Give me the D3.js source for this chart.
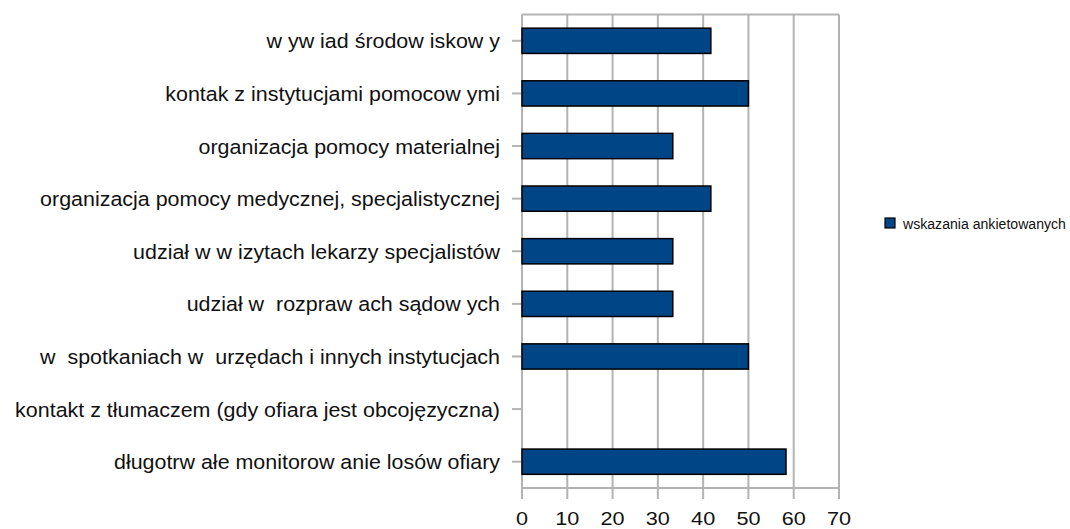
<!DOCTYPE html>
<html>
<head>
<meta charset="utf-8">
<script src="https://cdn.jsdelivr.net/npm/d3@7"></script>
<style>
  body { margin: 0; background: #fff; }
  svg { display: block; font-family: "Liberation Sans", Arial, sans-serif; }
  text { white-space: pre; }
</style>
</head>
<body>
<svg id="chart" width="1070" height="529"></svg>
<script>
// categories, top to bottom
var categories = [
  "w yw iad środow iskow y",
  "kontak z instytucjami pomocow ymi",
  "organizacja pomocy materialnej",
  "organizacja pomocy medycznej, specjalistycznej",
  "udział w w izytach lekarzy specjalistów",
  "udział w  rozpraw ach sądow ych",
  "w  spotkaniach w  urzędach i innych instytucjach",
  "kontakt z tłumaczem (gdy ofiara jest obcojęzyczna)",
  "długotrw ałe monitorow anie losów ofiary"
];
var values = [41.7, 50, 33.3, 41.7, 33.3, 33.3, 50, 0, 58.3];
var xTicks = [0, 10, 20, 30, 40, 50, 60, 70];
var seriesName = "wskazania ankietowanych";

var svg = d3.select("#chart");
var pLeft = 522, pRight = 839, pTop = 14.5, pBottom = 488;

var x = d3.scaleLinear().domain([0, 70]).range([pLeft, pRight]);
var y = d3.scaleBand().domain(categories).range([pTop, pBottom]).paddingInner(0.52).paddingOuter(0.26);

var grid = "#b3b3b3";

// vertical gridlines (extend below as ticks)
svg.append("g").selectAll("line").data(xTicks).enter().append("line")
  .attr("x1", function(d) { return x(d); }).attr("x2", function(d) { return x(d); })
  .attr("y1", pTop).attr("y2", pBottom + 11)
  .attr("stroke", grid).attr("stroke-width", 2);

// top & bottom frame lines
svg.append("line").attr("x1", pLeft).attr("x2", pRight).attr("y1", pTop).attr("y2", pTop)
  .attr("stroke", grid).attr("stroke-width", 2);
svg.append("line").attr("x1", pLeft).attr("x2", pRight).attr("y1", pBottom).attr("y2", pBottom)
  .attr("stroke", grid).attr("stroke-width", 2);

// y ticks
svg.append("g").selectAll("line").data(categories).enter().append("line")
  .attr("x1", pLeft - 10).attr("x2", pLeft)
  .attr("y1", function(d) { return y(d) + y.bandwidth() / 2; })
  .attr("y2", function(d) { return y(d) + y.bandwidth() / 2; })
  .attr("stroke", grid).attr("stroke-width", 2);

// bars
var rows = values.map(function(v, i) { return {v: v, c: categories[i]}; });
svg.append("g").selectAll("rect").data(rows.filter(function(d) { return d.v > 0; }))
  .enter().append("rect")
  .attr("x", x(0))
  .attr("y", function(d) { return y(d.c); })
  .attr("width", function(d) { return x(d.v) - x(0); })
  .attr("height", y.bandwidth())
  .attr("fill", "#004586").attr("stroke", "#000").attr("stroke-width", 1.5);

// category labels (font in source is horizontally stretched)
svg.append("g").selectAll("text").data(categories).enter().append("text")
  .attr("transform", function(d) {
    return "translate(" + (pLeft - 22) + "," + (y(d) + y.bandwidth() / 2 + 7.5) + ") scale(1.1,1)";
  })
  .attr("text-anchor", "end")
  .attr("font-size", 19.5)
  .attr("fill", "#111")
  .text(function(d) { return d; });

// x tick labels
svg.append("g").selectAll("text").data(xTicks).enter().append("text")
  .attr("transform", function(d) { return "translate(" + x(d) + ",525) scale(1.17,1)"; })
  .attr("text-anchor", "middle")
  .attr("font-size", 18.5)
  .attr("fill", "#111")
  .text(function(d) { return d; });

// legend
var lg = svg.append("g").attr("transform", "translate(885,218)");
lg.append("rect").attr("width", 10).attr("height", 10)
  .attr("fill", "#004586").attr("stroke", "#000").attr("stroke-width", 1.2);
lg.append("text").attr("transform", "translate(18,10.5) scale(0.94,1)")
  .attr("font-size", 15).attr("fill", "#111")
  .text(seriesName);
</script>
</body>
</html>
